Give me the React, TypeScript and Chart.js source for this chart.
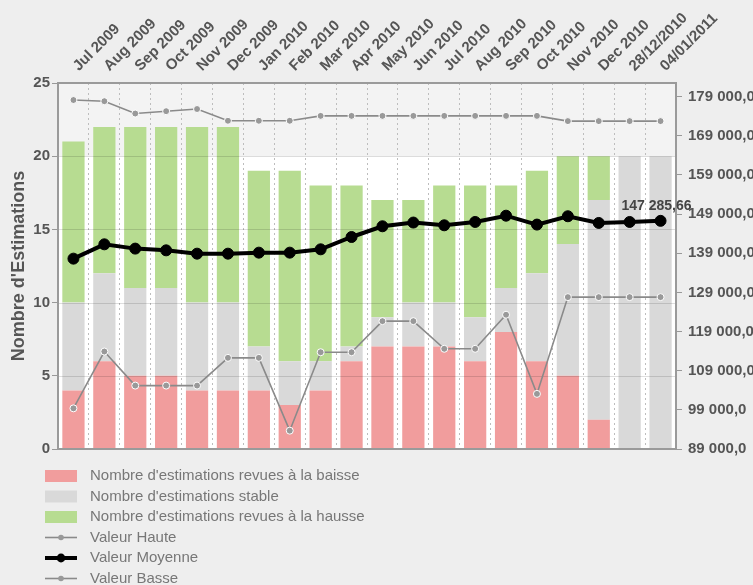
import React, { useEffect, useRef } from 'react';
import { Chart, registerables } from 'chart.js';

Chart.register(...registerables);

const CATEGORIES = [
  'Jul 2009', 'Aug 2009', 'Sep 2009', 'Oct 2009', 'Nov 2009', 'Dec 2009',
  'Jan 2010', 'Feb 2010', 'Mar 2010', 'Apr 2010', 'May 2010', 'Jun 2010',
  'Jul 2010', 'Aug 2010', 'Sep 2010', 'Oct 2010', 'Nov 2010', 'Dec 2010',
  '28/12/2010', '04/01/2011',
];
const BAISSE = [4, 6, 5, 5, 4, 4, 4, 3, 4, 6, 7, 7, 7, 6, 8, 6, 5, 2, 0, 0];
const STABLE = [6, 6, 6, 6, 6, 6, 3, 3, 2, 1, 2, 3, 3, 3, 3, 6, 9, 15, 20, 20];
const HAUSSE = [11, 10, 11, 11, 12, 12, 12, 13, 12, 11, 8, 7, 8, 9, 7, 7, 6, 3, 0, 0];
const HAUTE = [178150, 177850, 174700, 175300, 175850, 172850, 172850, 172850, 174100, 174100,
  174100, 174100, 174100, 174100, 174100, 174100, 172770, 172770, 172770, 172770];
const MOYENNE = [137630, 141290, 140190, 139750, 138900, 138900, 139160, 139160, 140010, 143160,
  145900, 146850, 146150, 147000, 148600, 146330, 148460, 146750, 147000, 147285.66];
const BASSE = [99390, 113900, 105200, 105200, 105200, 112290, 112290, 93680, 113720, 113720,
  121660, 121660, 114600, 114600, 123300, 103080, 127800, 127800, 127800, 127800];
const RIGHT_TICKS = [89000, 99000, 109000, 119000, 129000, 139000, 149000, 159000, 169000, 179000];

const FONT = "'Liberation Sans', Arial, Helvetica, sans-serif";
const PAGE_BG = '#eeeeee';
const TEXT = '#555555';

function frNumber(v: number, decimals: number): string {
  const s = v.toFixed(decimals);
  const parts = s.split('.');
  const grouped = parts[0].replace(/\B(?=(\d{3})+(?!\d))/g, ' ');
  return parts[1] ? grouped + ',' + parts[1] : grouped;
}

const framePlugin = {
  id: 'frame',
  beforeDraw(chart: any) {
    const { ctx, chartArea: a, scales } = chart;
    ctx.save();
    ctx.fillStyle = PAGE_BG;
    ctx.fillRect(0, 0, chart.width, chart.height);
    ctx.fillStyle = '#ffffff';
    ctx.fillRect(a.left, a.top, a.right - a.left, a.bottom - a.top);
    const y20 = scales.y.getPixelForValue(20);
    ctx.fillStyle = '#f3f3f3';
    ctx.fillRect(a.left, a.top, a.right - a.left, y20 - a.top);
    ctx.restore();
  },
  afterDatasetDraw(chart: any, args: any) {
    if (args.index !== 0) return;
    const { ctx, chartArea: a, scales } = chart;
    ctx.save();
    ctx.strokeStyle = 'rgba(0,0,0,0.13)';
    ctx.lineWidth = 1;
    for (const t of scales.y.ticks) {
      if (t.value <= scales.y.min || t.value >= scales.y.max) continue;
      const py = Math.round(scales.y.getPixelForValue(t.value)) + 0.5;
      ctx.beginPath();
      ctx.moveTo(a.left, py);
      ctx.lineTo(a.right, py);
      ctx.stroke();
    }
    ctx.restore();
  },
  afterDatasetsDraw(chart: any) {
    const { ctx, chartArea: a } = chart;
    ctx.save();
    ctx.strokeStyle = '#9a9a9a';
    ctx.lineWidth = 2;
    ctx.strokeRect(a.left, a.top, a.right - a.left, a.bottom - a.top);
    ctx.restore();
  },
  afterDraw(chart: any) {
    const { ctx } = chart;
    ctx.save();
    // value label on last average point
    const meta = chart.getDatasetMeta(4);
    const last = meta.data[meta.data.length - 1];
    const val = chart.data.datasets[4].data[meta.data.length - 1] as number;
    ctx.font = `bold 14px ${FONT}`;
    ctx.fillStyle = '#444444';
    ctx.textAlign = 'center';
    ctx.textBaseline = 'bottom';
    ctx.fillText(frNumber(val, 2), last.x - 4, last.y - 8);

    // legend
    const x0 = 45;
    const w = 32;
    let cy = 476;
    ctx.textAlign = 'left';
    ctx.textBaseline = 'middle';
    ctx.font = `15px ${FONT}`;
    chart.data.datasets.forEach((ds: any) => {
      if (ds.type === 'bar') {
        ctx.fillStyle = ds.backgroundColor;
        ctx.fillRect(x0, cy - 6, w, 12);
      } else {
        ctx.strokeStyle = ds.borderColor;
        ctx.lineWidth = ds.borderWidth;
        ctx.beginPath();
        ctx.moveTo(x0, cy);
        ctx.lineTo(x0 + w, cy);
        ctx.stroke();
        ctx.beginPath();
        ctx.arc(x0 + w / 2, cy, ds.pointRadius * 0.8, 0, Math.PI * 2);
        ctx.fillStyle = ds.pointBackgroundColor;
        ctx.fill();
      }
      ctx.fillStyle = '#777777';
      ctx.fillText(ds.label, 90, cy);
      cy += 20.5;
    });
    ctx.restore();
  },
};

export default function App() {
  const ref = useRef<HTMLCanvasElement | null>(null);

  useEffect(() => {
    if (!ref.current) return;
    const lineBase = {
      type: 'line' as const,
      yAxisID: 'y1',
      borderColor: '#8a8a8a',
      borderWidth: 1.6,
      pointRadius: 3.5,
      pointBackgroundColor: '#999999',
      pointBorderColor: '#ffffff',
      pointBorderWidth: 1,
      tension: 0,
      fill: false,
      order: 1,
    };
    const chart = new Chart(ref.current, {
      type: 'bar',
      data: {
        labels: CATEGORIES,
        datasets: [
          { type: 'bar', label: "Nombre d'estimations revues à la baisse", data: BAISSE, backgroundColor: '#f19d9d', borderWidth: 0, yAxisID: 'y', order: 2 },
          { type: 'bar', label: "Nombre d'estimations stable", data: STABLE, backgroundColor: '#d9d9d9', borderWidth: 0, yAxisID: 'y', order: 2 },
          { type: 'bar', label: "Nombre d'estimations revues à la hausse", data: HAUSSE, backgroundColor: '#b7dc91', borderWidth: 0, yAxisID: 'y', order: 2 },
          { ...lineBase, label: 'Valeur Haute', data: HAUTE },
          { ...lineBase, label: 'Valeur Moyenne', data: MOYENNE, borderColor: '#000000', borderWidth: 4, pointRadius: 5.5, pointBackgroundColor: '#000000', pointBorderColor: '#000000', order: 0 },
          { ...lineBase, label: 'Valeur Basse', data: BASSE },
        ] as any,
      },
      options: {
        responsive: false,
        animation: false,
        devicePixelRatio: 1,
        layout: { padding: { left: 0, right: 0, top: 0, bottom: 136 } },
        plugins: {
          legend: { display: false },
          tooltip: { enabled: false },
        },
        scales: {
          x: {
            type: 'category',
            position: 'top',
            stacked: true,
            offset: true,
            grid: { offset: true, color: '#bdbdbd', lineWidth: 1, drawTicks: false },
            border: { display: false, dash: [2, 3] },
            ticks: {
              autoSkip: false,
              maxRotation: 45,
              minRotation: 45,
              padding: 8,
              labelOffset: 15,
              color: TEXT,
              font: { family: FONT, size: 15, weight: 'bold' },
            },
            afterFit: (s: any) => { s.height = 83; },
          },
          y: {
            position: 'left',
            stacked: true,
            min: 0,
            max: 25,
            ticks: { stepSize: 5, padding: 2, color: TEXT, font: { family: FONT, size: 15, weight: 'bold' } },
            grid: { drawOnChartArea: false, drawTicks: true, tickLength: 6, color: '#999999' },
            border: { display: false },
            title: {
              display: true,
              text: "Nombre d'Estimations",
              color: TEXT,
              font: { family: FONT, size: 18, weight: 'bold' },
              padding: { top: 8, bottom: 0 },
            },
            afterFit: (s: any) => { s.width = 58; },
          },
          y1: {
            position: 'right',
            min: 89000,
            max: 182500,
            grid: { drawOnChartArea: false, drawTicks: true, tickLength: 6, color: '#999999' },
            border: { display: false },
            ticks: {
              padding: 6,
              color: TEXT,
              font: { family: FONT, size: 15, weight: 'bold' },
              callback: (v: any) => frNumber(Number(v), 1),
            },
            afterBuildTicks: (s: any) => { s.ticks = RIGHT_TICKS.map((v) => ({ value: v })); },
            afterFit: (s: any) => { s.width = 77; },
          },
        },
      } as any,
      plugins: [framePlugin],
    });
    return () => chart.destroy();
  }, []);

  return (
    <div style={{ position: 'fixed', left: 0, top: 0, width: 753, height: 585, background: PAGE_BG }}>
      <canvas ref={ref} width={753} height={585} style={{ display: 'block', width: 753, height: 585 }} />
    </div>
  );
}
